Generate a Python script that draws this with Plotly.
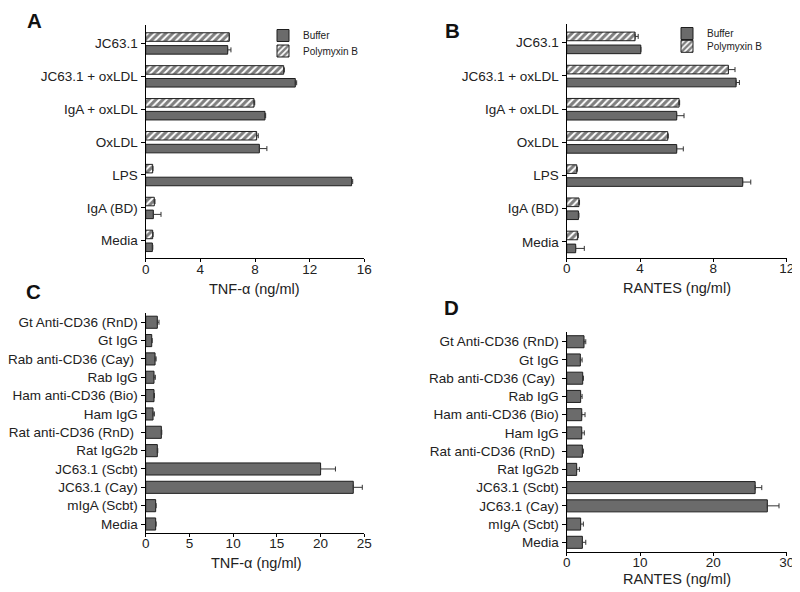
import plotly.graph_objects as go

# ---------------- data ----------------
ab_categories = ["JC63.1", "JC63.1 + oxLDL", "IgA + oxLDL", "OxLDL", "LPS", "IgA (BD)", "Media"]

a_buffer = [6.0, 10.95, 8.73, 8.32, 15.07, 0.56, 0.49]
a_buffer_err = [0.24, 0.1, 0.05, 0.55, 0.08, 0.56, 0.03]
a_polymyxin = [6.12, 10.1, 7.93, 8.12, 0.51, 0.63, 0.51]
a_polymyxin_err = [0.0, 0.05, 0.05, 0.12, 0.02, 0.05, 0.03]

b_buffer = [4.04, 9.24, 6.0, 6.0, 9.6, 0.64, 0.49]
b_buffer_err = [0.0, 0.18, 0.4, 0.36, 0.44, 0.03, 0.47]
b_polymyxin = [3.73, 8.82, 6.13, 5.51, 0.55, 0.67, 0.6]
b_polymyxin_err = [0.17, 0.36, 0.03, 0.03, 0.03, 0.03, 0.03]

cd_categories = ["Gt Anti-CD36 (RnD)", "Gt IgG", "Rab anti-CD36 (Cay) ", "Rab IgG",
                 "Ham anti-CD36 (Bio)", "Ham IgG", "Rat anti-CD36 (RnD) ", "Rat IgG2b",
                 "JC63.1 (Scbt)", "JC63.1 (Cay)", "mIgA (Scbt)", "Media"]

c_tnf = [1.33, 0.69, 1.07, 0.95, 0.95, 0.84, 1.79, 1.33, 20.0, 23.74, 1.14, 1.14]
c_tnf_err = [0.19, 0.05, 0.12, 0.15, 0.05, 0.15, 0.05, 0.05, 1.7, 1.03, 0.05, 0.05]

d_rantes = [2.36, 1.86, 2.18, 1.9, 2.05, 2.05, 2.14, 1.36, 25.7, 27.36, 1.9, 2.14]
d_rantes_err = [0.24, 0.24, 0.1, 0.2, 0.45, 0.35, 0.13, 0.37, 0.9, 1.59, 0.37, 0.46]

ab_ticks = {"A": [0, 4, 8, 12, 16], "B": [0, 4, 8, 12]}
c_ticks = [0, 5, 10, 15, 20, 25]
d_ticks = [0, 10, 20, 30]

# ---------------- style ----------------
FONT = "Liberation Sans, Arial, Helvetica, sans-serif"
GRAY = "#6b6b6b"
EDGE = "#1e1e1e"
PAGE_OFFSET = 8          # default body margin of the html page
W, H = 800 - PAGE_OFFSET, 592 - PAGE_OFFSET


def px_x(v):
    return (v - PAGE_OFFSET) / W


def px_y(v):
    return 1 - (v - PAGE_OFFSET) / H


def err(vals):
    return dict(type="data", array=vals, arrayminus=[0] * len(vals), symmetric=False,
                color="#333333", thickness=1, width=2.5)


fig = go.Figure()

HATCH = dict(shape="/", fgcolor="black", bgcolor="white", size=5, solidity=0.6)

# Panel A / B grouped bars
for xa, ya, buf, buf_e, pol, pol_e, leg_buf, leg_pol in [
    ("x", "y", a_buffer, a_buffer_err, a_polymyxin, a_polymyxin_err, "legend", "legend3"),
    ("x2", "y2", b_buffer, b_buffer_err, b_polymyxin, b_polymyxin_err, "legend2", "legend4"),
]:
    fig.add_trace(go.Bar(
        y=ab_categories, x=buf, orientation="h", name="Buffer",
        width=0.26, offset=-0.33, xaxis=xa, yaxis=ya, legend=leg_buf,
        marker=dict(color=GRAY, line=dict(color=EDGE, width=1)),
        error_x=err(buf_e),
    ))
    fig.add_trace(go.Bar(
        y=ab_categories, x=pol, orientation="h", name="Polymyxin B",
        width=0.26, offset=0.06, xaxis=xa, yaxis=ya, legend=leg_pol,
        marker=dict(color="white", line=dict(color=EDGE, width=1), pattern=HATCH),
        error_x=err(pol_e),
    ))

# Panel C / D single bars
for xa, ya, vals, e in [("x3", "y3", c_tnf, c_tnf_err), ("x4", "y4", d_rantes, d_rantes_err)]:
    fig.add_trace(go.Bar(
        y=cd_categories, x=vals, orientation="h", width=0.66,
        xaxis=xa, yaxis=ya, showlegend=False,
        marker=dict(color=GRAY, line=dict(color=EDGE, width=1)),
        error_x=err(e),
    ))

axis_common = dict(showline=True, linecolor="black", linewidth=1.3, ticks="outside",
                   ticklen=4, tickwidth=1.2, tickcolor="black", showgrid=False,
                   zeroline=False, automargin=False,
                   tickfont=dict(size=13.5, color="#222222", family=FONT))
xaxis_common = dict(axis_common, ticklen=3, ticklabelstandoff=-5)

layout_axes = dict(
    xaxis=dict(xaxis_common, domain=[px_x(145.7), px_x(364.3)], range=[0, 16],
               tickvals=ab_ticks["A"], anchor="y"),
    yaxis=dict(axis_common, domain=[px_y(258.3), px_y(25)], type="category",
               categoryorder="array", categoryarray=ab_categories[::-1],
               range=[-0.535, 6.556], anchor="x"),
    xaxis2=dict(xaxis_common, domain=[px_x(566.7), px_x(786.7)], range=[0, 12],
                tickvals=ab_ticks["B"], anchor="y2"),
    yaxis2=dict(axis_common, domain=[px_y(257.7), px_y(24.3)], type="category",
                categoryorder="array", categoryarray=ab_categories[::-1],
                range=[-0.48, 6.555], anchor="x2"),
    xaxis3=dict(xaxis_common, domain=[px_x(145.7), px_x(364.3)], range=[0, 25],
                tickvals=c_ticks, anchor="y3"),
    yaxis3=dict(axis_common, domain=[px_y(532.7), px_y(312.7)], type="category",
                categoryorder="array", categoryarray=cd_categories[::-1],
                range=[-0.474, 11.52], anchor="x3"),
    xaxis4=dict(xaxis_common, domain=[px_x(566.7), px_x(786.7)], range=[0, 30],
                tickvals=d_ticks, anchor="y4"),
    yaxis4=dict(axis_common, domain=[px_y(551.7), px_y(331.7)], type="category",
                categoryorder="array", categoryarray=cd_categories[::-1],
                range=[-0.515, 11.55], anchor="x4"),
)

annotations = []
for txt, x, y in [("A", 34, 20.5), ("B", 452.5, 30.8), ("C", 33, 291.5), ("D", 452, 307)]:
    annotations.append(dict(text=f"<b>{txt}</b>", x=px_x(x), y=px_y(y), xref="paper", yref="paper",
                            showarrow=False, xanchor="center", yanchor="middle",
                            font=dict(size=20.5, color="#111111", family=FONT)))
for txt, x, y in [("TNF-α (ng/ml)", 254, 289), ("RANTES (ng/ml)", 677, 288),
                  ("TNF-α (ng/ml)", 256, 562.7), ("RANTES (ng/ml)", 677, 578.5)]:
    annotations.append(dict(text=txt, x=px_x(x), y=px_y(y), xref="paper", yref="paper",
                            showarrow=False, xanchor="center", yanchor="middle",
                            font=dict(size=14.5, color="#222222", family=FONT)))

legend_common = dict(font=dict(size=10, color="#222222", family=FONT), bgcolor="rgba(0,0,0,0)",
                     traceorder="normal", itemwidth=30, tracegroupgap=0,
                     xanchor="left", yanchor="top")

fig.update_layout(
    width=W, height=H, margin=dict(l=0, r=0, t=0, b=0, autoexpand=False),
    paper_bgcolor="white", plot_bgcolor="white",
    barmode="overlay",
    font=dict(family=FONT, color="#222222"),
    annotations=annotations,
    legend=dict(legend_common, x=px_x(263), y=px_y(21)),
    legend3=dict(legend_common, x=px_x(263), y=px_y(36.5)),
    legend2=dict(legend_common, x=px_x(667), y=px_y(19)),
    legend4=dict(legend_common, x=px_x(667), y=px_y(31.8)),
    **layout_axes,
)

fig.write_html("out.html")
